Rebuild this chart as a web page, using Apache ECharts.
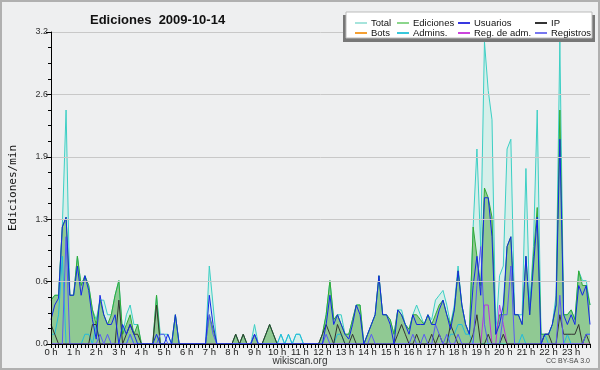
<!DOCTYPE html>
<html>
<head>
<meta charset="utf-8">
<script src="https://cdn.jsdelivr.net/npm/echarts@6/dist/echarts.min.js"></script>
<style>
html,body{margin:0;padding:0;background:#eeeff0}
#chart{width:600px;height:370px}
</style>
</head>
<body>
<div id="chart"></div>
<script>
// one value every 10 minutes, ediciones por minuto
var total=[
	0.45,0.5,0.5,1.2,2.4,0.5, 0.5,0.9,0.6,0.7,0.6,0.35,
	0.25,0.45,0.45,0.3,0.3,0.5, 0.65,0.1,0.3,0.4,0.2,0.2,
	0,0,0,0,0.5,0.1, 0.1,0.1,0,0.3,0,0,
	0,0,0,0,0,0, 0.8,0.4,0,0,0,0,
	0,0.1,0,0.1,0,0, 0.2,0,0,0.1,0.2,0.1,
	0,0.1,0,0.1,0,0.1, 0.1,0,0,0,0,0,
	0.1,0.3,0.65,0.25,0.3,0.3, 0.1,0.1,0.25,0.4,0.4,0,
	0.1,0.2,0.3,0.7,0.3,0.3, 0.25,0.1,0.35,0.35,0.2,0.15,
	0.3,0.4,0.3,0.2,0.3,0.25, 0.45,0.5,0.55,0.4,0.2,0.4,
	0.8,0.4,0.2,0.1,1.2,2.0, 1.0,3.1,2.6,2.3,0.1,0.7,
	0.8,2.0,2.1,0.3,0.3,0.3, 1.8,0.4,1.0,2.4,0.1,0.1,
	0.1,0.2,0.5,3.1,0.3,0.3, 0.35,0.25,0.75,0.65,0.65,0.4
];
var ediciones=[
	0.45,0.5,0.5,1.2,1.3,0.5, 0.5,0.9,0.6,0.7,0.6,0.35,
	0.2,0.45,0.3,0.2,0.3,0.5, 0.65,0.1,0.2,0.3,0.1,0.2,
	0,0,0,0,0.5,0, 0,0,0,0.3,0,0,
	0,0,0,0,0,0, 0.3,0.15,0,0,0,0,
	0,0.1,0,0.1,0,0, 0.1,0,0,0.1,0.2,0.1,
	0,0,0,0,0,0, 0,0,0,0,0,0,
	0.1,0.3,0.65,0.25,0.3,0.2, 0.1,0.1,0.25,0.4,0.4,0,
	0.1,0.2,0.3,0.7,0.3,0.3, 0.25,0.1,0.35,0.3,0.2,0.15,
	0.3,0.3,0.25,0.2,0.3,0.2, 0.3,0.4,0.45,0.3,0.2,0.35,
	0.75,0.4,0.2,0.1,1.2,0.9, 0.6,1.6,1.5,1.3,0.1,0.3,
	0.3,1.0,1.1,0.3,0.3,0.2, 0.9,0.3,0.9,1.4,0.1,0.1,
	0.1,0.2,0.4,2.4,0.3,0.3, 0.35,0.25,0.75,0.6,0.6,0.4
];
var usuarios=[
	0.25,0.4,0.47,1.2,1.3,0.5, 0.5,0.8,0.5,0.7,0.55,0.25,
	0.05,0.5,0.3,0.2,0.2,0.3, 0,0.2,0.1,0.2,0.1,0,
	0,0,0,0,0.1,0, 0,0.1,0,0.3,0,0,
	0,0,0,0,0,0, 0.5,0.2,0,0,0,0,
	0,0,0,0,0,0, 0.1,0,0,0,0,0,
	0,0,0,0,0,0, 0,0,0,0,0,0,
	0,0.2,0.5,0.2,0.3,0.2, 0.1,0.05,0.2,0.4,0.3,0,
	0.1,0.2,0.3,0.7,0.3,0.3, 0.2,0,0.35,0.3,0.2,0.1,
	0.3,0.2,0.2,0.2,0.3,0.2, 0.2,0.35,0.45,0.3,0.15,0.35,
	0.75,0.4,0.2,0.1,0.6,0.9, 0.5,1.5,1.5,1.1,0.1,0.2,
	0.4,1.0,1.1,0.3,0.3,0.2, 0.9,0.3,0.8,1.3,0,0.1,
	0.1,0.2,0.4,2.1,0.3,0.2, 0.3,0.2,0.6,0.5,0.6,0.2
];
var ip=[
	0.2,0.1,0,0,0,0, 0,0,0,0,0,0.2,
	0.2,0,0,0,0,0, 0.45,0,0.1,0.2,0.1,0.1,
	0,0,0,0,0.4,0, 0,0,0,0,0,0,
	0,0,0,0,0,0, 0,0,0,0,0,0,
	0,0.1,0,0.1,0,0, 0,0,0,0.1,0.2,0.1,
	0,0,0,0,0,0, 0,0,0,0,0,0,
	0.1,0.2,0.1,0,0.2,0.1, 0,0,0.1,0,0,0,
	0,0,0,0,0,0, 0,0,0.1,0.2,0.1,0,
	0,0.1,0,0,0,0.1, 0,0.1,0,0,0.2,0.1,
	0,0,0,0,0.1,0.3, 0,0,0.1,0,0,0,
	0.1,0,0,0,0,0, 0,0,0,0,0,0.1,
	0.1,0,0,0.3,0.1,0.1, 0.1,0.1,0.2,0,0.1,0
];
var bots=[];
var admins=[
	0.1,0.1,0.3,0.9,0,0, 0,0,0,0.1,0.1,0,
	0.2,0,0,0,0,0, 0,0,0,0.1,0,0,
	0,0,0,0,0,0, 0,0,0,0,0,0,
	0,0,0,0,0,0, 0,0,0,0,0,0,
	0,0,0,0,0,0, 0,0,0,0,0,0,
	0,0.1,0,0.1,0,0.1, 0.1,0,0,0,0,0,
	0,0,0,0,0.1,0.1, 0,0,0,0,0,0,
	0,0,0,0,0,0, 0,0,0,0,0,0,
	0,0,0,0,0,0, 0,0,0,0,0.1,0.1,
	0.2,0.2,0.1,0.1,0,0, 0,0,0,0,0,0,
	0,0,0,0,0,0.1, 0,0,0,0,0,0.1,
	0,0,0,0,0,0.1, 0,0,0,0,0.1,0.1
];
var regAdm=[
	0,0,0,0,0,0, 0,0,0,0,0,0,
	0,0,0,0,0,0, 0,0,0,0,0,0,
	0,0,0,0,0,0, 0,0,0,0,0,0,
	0,0,0,0,0,0, 0,0,0,0,0,0,
	0,0,0,0,0,0, 0,0,0,0,0,0,
	0,0,0,0,0,0, 0,0,0,0,0,0,
	0,0,0,0,0,0, 0,0,0,0,0,0,
	0,0,0,0,0,0, 0,0,0,0,0,0,
	0,0,0,0,0,0, 0,0,0,0,0,0,
	0,0,0,0,0,0, 0,0.4,0.4,0,0,0.4,
	0.2,0,0,0,0,0, 0,0,0,0,0,0,
	0,0,0,0,0,0, 0,0,0,0,0,0
];
var registros=[
	0,0,0,0,1.1,0, 0,0,0,0,0,0,
	0,0.1,0,0.1,0,0, 0,0,0,0.1,0,0,
	0,0,0,0,0,0.1, 0.1,0,0,0,0,0,
	0,0,0,0,0,0, 0.3,0.1,0,0,0,0,
	0,0,0,0,0,0, 0.1,0,0,0,0,0,
	0,0,0,0,0,0, 0,0,0,0,0,0,
	0,0.1,0,0,0,0, 0,0,0,0,0,0,
	0,0.1,0,0,0,0, 0,0,0,0,0,0,
	0.1,0,0,0.1,0,0, 0.2,0.1,0,0.1,0,0,
	0.1,0,0,0,0,0.6, 1.0,0.2,0,0,0,0,
	0.3,0.3,0.8,0,0,0, 0,0,0,0,0,0,
	0,0,0,0.5,0,0, 0,0,0,0,0.1,0.1
];

var hours=[];
for(var h=0;h<24;h++){
	for(var m=0;m<6;m++){ hours.push(h+' h'); }
}

var legendCols=[['Total','Bots'],['Ediciones','Admins.'],['Usuarios','Reg. de adm.'],['IP','Registros']];
var legendX=[350,392,453,530];
var legendColor={
	'Total':'#a6e4dc','Ediciones':'#8cd68c','Usuarios':'#3838e0','IP':'#333333',
	'Bots':'#f5a033','Admins.':'#38c8dc','Reg. de adm.':'#cc44dd','Registros':'#7878f0'
};
var font='Liberation Sans';

function serie(name,data,color,fill){
	var s={
		name:name,type:'line',data:data,symbol:'none',showSymbol:false,
		lineStyle:{width:1,color:color},itemStyle:{color:color},
		emphasis:{disabled:true},animation:false
	};
	if(fill){ s.areaStyle={color:fill,opacity:1}; }
	return s;
}

var legends=legendCols.map(function(col,i){
	return {
		orient:'vertical',left:legendX[i],top:13,itemGap:0,
		itemWidth:12,itemHeight:2,icon:'rect',selectedMode:false,z:20,
		textStyle:{fontFamily:font,fontSize:9.5,color:'#111',lineHeight:10,padding:[0,0,0,-1]},
		data:col.map(function(n){ return {name:n,itemStyle:{color:legendColor[n]}}; })
	};
});

var chart=echarts.init(document.getElementById('chart'),null,{renderer:'canvas'});
var option={
	backgroundColor:'#eeeff0',
	animation:false,
	title:{
		text:'Ediciones  2009-10-14',left:85,top:9,
		textStyle:{fontFamily:font,fontWeight:'bold',fontSize:13,color:'#111'}
	},
	legend:legends,
	grid:{left:46,right:10,top:32,bottom:26},
	xAxis:{
		type:'category',data:hours,boundaryGap:false,z:5,
		axisLine:{lineStyle:{color:'#000',width:1}},
		axisTick:{interval:0,length:4,lineStyle:{color:'#000'}},
		axisLabel:{interval:5,fontFamily:font,fontSize:9.5,color:'#222',margin:3},
		splitLine:{show:false}
	},
	yAxis:{
		type:'value',min:0,max:3.2,interval:0.64,z:5,
		name:'Ediciones/min',nameLocation:'middle',nameGap:32,
		nameTextStyle:{fontFamily:'DejaVu Sans Mono',fontSize:11,color:'#111'},
		axisLine:{show:true,lineStyle:{color:'#000'}},
		axisTick:{show:true,length:5,lineStyle:{color:'#000'}},
		minorTick:{show:true,splitNumber:4,length:3,lineStyle:{color:'#000'}},
		axisLabel:{fontFamily:font,fontSize:9,color:'#333',margin:3,
			formatter:function(v){ return v.toFixed(1); }},
		splitLine:{lineStyle:{color:'#c8c8c8',width:1}}
	},
	graphic:[
		{type:'rect',z:10,shape:{x:343,y:15,width:252,height:27},style:{fill:'#777'}},
		{type:'rect',z:11,shape:{x:346,y:12,width:246,height:26},style:{fill:'#fff',stroke:'#bbb',lineWidth:1}},
		{type:'text',z:11,x:300,y:356,style:{text:'wikiscan.org',fontFamily:font,fontSize:10,fill:'#333',align:'center'}},
		{type:'text',z:11,x:590,y:358,style:{text:'CC BY-SA 3.0',fontFamily:font,fontSize:7,fill:'#444',align:'right'}},
		{type:'rect',z:30,shape:{x:1,y:1,width:598,height:368},style:{fill:'none',stroke:'#b0b0b0',lineWidth:2}}
	],
	series:[
		serie('Total',total,'#3ccfc4','#d6efea'),
		serie('Ediciones',ediciones,'#33aa33','#90c993'),
		serie('Bots',bots,'#f5a033'),
		serie('Admins.',admins,'#22bbdd'),
		serie('Reg. de adm.',regAdm,'#bb33dd'),
		serie('IP',ip,'#333333'),
		serie('Registros',registros,'#5a5af5'),
		serie('Usuarios',usuarios,'#1428e6')
	]
};
chart.setOption(option);
</script>
</body>
</html>
